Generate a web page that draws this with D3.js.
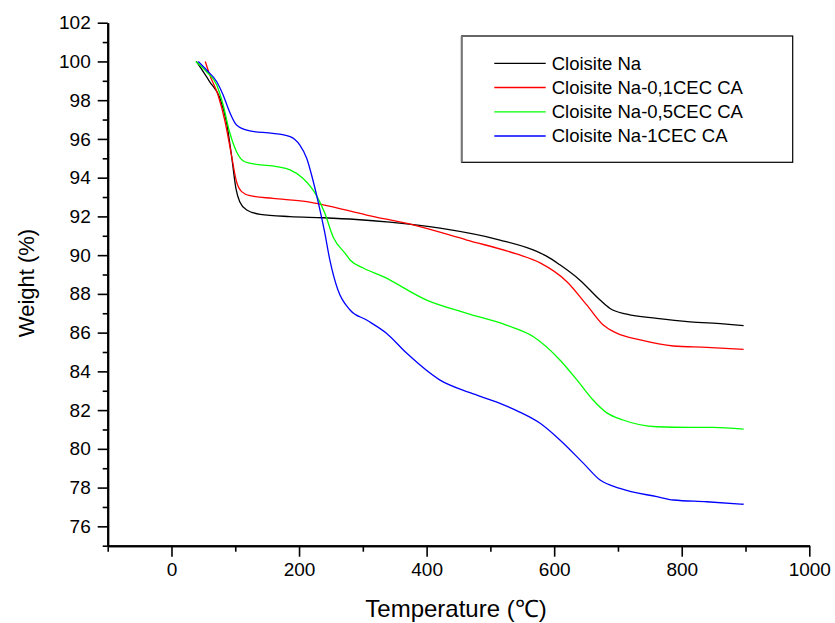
<!DOCTYPE html>
<html>
<head>
<meta charset="utf-8">
<script src="https://cdn.jsdelivr.net/npm/d3@7"></script>
<style>
  html, body { margin: 0; padding: 0; background: #fff; }
  svg { display: block; font-family: "Liberation Sans", Arial, sans-serif; }
</style>
</head>
<body>
<svg id="chart" width="835" height="623"></svg>
<script>
// ---- data (temperature °C, weight %) ----
const seriesNames = ["Cloisite Na", "Cloisite Na-0,1CEC CA", "Cloisite Na-0,5CEC CA", "Cloisite Na-1CEC CA"];
const seriesColors = ["#000000", "#ff0000", "#00ff00", "#0000ff"];

const cloisiteNaT = [39, 60, 76, 86, 94, 101, 107, 118, 139, 186, 238, 290, 342, 421, 515, 567, 588, 609, 640, 672, 687, 714, 761, 813, 865, 897];
const cloisiteNaW = [100, 98.95, 98.1, 96.9, 95.17, 93.45, 92.76, 92.33, 92.11, 91.99, 91.93, 91.84, 91.7, 91.39, 90.78, 90.27, 89.95, 89.5, 88.72, 87.68, 87.26, 86.95, 86.74, 86.56, 86.45, 86.36];

const na01T = [53, 60, 73, 84, 94, 102, 110, 123, 159, 212, 238, 306, 379, 463, 541, 578, 620, 651, 677, 698, 735, 787, 839, 897];
const na01W = [100, 99.3, 98.27, 96.9, 95.17, 93.79, 93.28, 93.07, 92.93, 92.76, 92.6, 92.07, 91.56, 90.78, 90.06, 89.6, 88.63, 87.43, 86.39, 85.97, 85.62, 85.31, 85.24, 85.14];

const na05T = [38, 55, 71, 81, 91, 102, 115, 133, 165, 186, 206, 227, 240, 254, 272, 280, 300, 332, 400, 463, 525, 567, 609, 640, 661, 682, 708, 761, 813, 849, 897];
const na05W = [100, 99.47, 98.78, 97.75, 96.37, 95.34, 94.82, 94.69, 94.57, 94.4, 93.97, 93.1, 92.2, 90.9, 90.1, 89.75, 89.35, 88.89, 87.68, 87.0, 86.39, 85.8, 84.59, 83.38, 82.52, 81.87, 81.49, 81.14, 81.11, 81.11, 81.02];

const na1T = [42, 55, 71, 81, 91, 102, 123, 159, 186, 201, 212, 222, 233, 240, 248, 261, 280, 306, 337, 369, 421, 468, 515, 546, 578, 609, 646, 672, 703, 761, 787, 839, 897];
const na1W = [100, 99.56, 98.95, 98.27, 97.4, 96.72, 96.41, 96.29, 96.12, 95.69, 95.0, 93.84, 92.3, 91.21, 89.8, 88.2, 87.17, 86.65, 85.97, 84.93, 83.55, 82.9, 82.35, 81.9, 81.32, 80.46, 79.25, 78.39, 77.96, 77.53, 77.36, 77.27, 77.14];

const xMajorTicks = [0, 200, 400, 600, 800, 1000];
const xMinorTicks = [-100, 100, 300, 500, 700, 900];
const yMajorTicks = [76, 78, 80, 82, 84, 86, 88, 90, 92, 94, 96, 98, 100, 102];
const yMinorTicks = [75, 77, 79, 81, 83, 85, 87, 89, 91, 93, 95, 97, 99, 101];

const xTitle = "Temperature (\u2103)";
const yTitle = "Weight (%)";

// ---- layout ----
const svg = d3.select("#chart");
const plotLeft = 107.7, plotRight = 809.3, plotTop = 22.7, plotBottom = 545.7;

const x = d3.scaleLinear().domain([-100, 1000]).range([plotLeft, plotRight]);
const y = d3.scaleLinear().domain([75, 102]).range([plotBottom, plotTop]);

const series = [
  { name: seriesNames[0], color: seriesColors[0], T: cloisiteNaT, W: cloisiteNaW },
  { name: seriesNames[1], color: seriesColors[1], T: na01T, W: na01W },
  { name: seriesNames[2], color: seriesColors[2], T: na05T, W: na05W },
  { name: seriesNames[3], color: seriesColors[3], T: na1T, W: na1W }
];

const line = d3.line()
  .x(d => x(d[0]))
  .y(d => y(d[1]))
  .curve(d3.curveMonotoneX);

const g = svg.append("g");
series.forEach(s => {
  const pts = s.T.map((t, i) => [t, s.W[i]]);
  g.append("path")
    .attr("d", line(pts))
    .attr("fill", "none")
    .attr("stroke", s.color)
    .attr("stroke-width", 1.3);
});

// ---- axes ----
function styleAxis(sel) {
  sel.selectAll("path.domain").attr("stroke", "#000").attr("stroke-width", 2);
  sel.selectAll(".tick line").attr("stroke", "#000").attr("stroke-width", 1.6);
  sel.selectAll(".tick text").attr("fill", "#000").style("font-size", "19px")
     .style("font-family", "'Liberation Sans', Arial, sans-serif");
}

const fmt = d3.format("d");
const xAxisMinor = d3.axisBottom(x).tickValues(xMinorTicks).tickSize(6).tickSizeOuter(0).tickFormat("");
const xAxisMajor = d3.axisBottom(x).tickValues(xMajorTicks).tickSize(11).tickSizeOuter(0).tickPadding(6).tickFormat(fmt);
svg.append("g").attr("transform", `translate(0,${plotBottom})`).call(xAxisMinor).call(styleAxis);
svg.append("g").attr("transform", `translate(0,${plotBottom})`).call(xAxisMajor).call(styleAxis);

const yAxisMinor = d3.axisLeft(y).tickValues(yMinorTicks).tickSize(5).tickSizeOuter(0).tickFormat("");
const yAxisMajor = d3.axisLeft(y).tickValues(yMajorTicks).tickSize(10).tickSizeOuter(0).tickPadding(7).tickFormat(fmt);
svg.append("g").attr("transform", `translate(${plotLeft},0)`).call(yAxisMinor).call(styleAxis);
svg.append("g").attr("transform", `translate(${plotLeft},0)`).call(yAxisMajor).call(styleAxis);

// ---- axis titles ----
svg.append("text")
  .attr("x", 456).attr("y", 616.5)
  .attr("text-anchor", "middle")
  .style("font-size", "24px")
  .attr("fill", "#000")
  .text(xTitle);

svg.append("text")
  .attr("transform", "translate(34,283) rotate(-90)")
  .attr("text-anchor", "middle")
  .style("font-size", "22px")
  .attr("fill", "#000")
  .text(yTitle);

// ---- legend ----
const lg = svg.append("g");
lg.append("rect")
  .attr("x", 461.7).attr("y", 36)
  .attr("width", 331).attr("height", 126.3)
  .attr("fill", "#fff")
  .attr("stroke", "#000").attr("stroke-width", 1.2);
lg.append("line")
  .attr("x1", 461.7).attr("x2", 461.7).attr("y1", 36).attr("y2", 162.3)
  .attr("stroke", "#777").attr("stroke-width", 2);

const rowY = [63.3, 87.5, 111.8, 136];
series.forEach((s, i) => {
  lg.append("line")
    .attr("x1", 494.3).attr("x2", 545.7)
    .attr("y1", rowY[i]).attr("y2", rowY[i])
    .attr("stroke", s.color).attr("stroke-width", 1.3);
  lg.append("text")
    .attr("x", 551.7).attr("y", rowY[i])
    .attr("dy", "0.35em")
    .style("font-size", "18.5px")
    .attr("fill", "#000")
    .text(s.name);
});
</script>
</body>
</html>
